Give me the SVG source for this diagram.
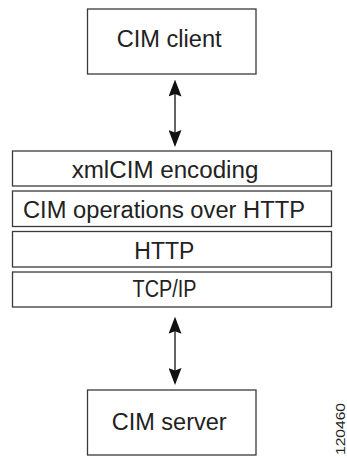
<svg xmlns="http://www.w3.org/2000/svg" width="347" height="458" viewBox="0 0 347 458">
  <style>
    .box { fill: #ffffff; stroke: #3a3a3a; stroke-width: 1.3; }
    .label { font-family: "Liberation Sans", Arial, Helvetica, sans-serif; font-size: 23.5px; fill: #222222; text-anchor: middle; }
    .link { stroke: #222222; stroke-width: 1.4; fill: none; marker-start: url(#head); marker-end: url(#head); }
    .figno { font-family: "Liberation Sans", Arial, Helvetica, sans-serif; font-size: 13.5px; fill: #222222; }
  </style>
  <defs>
    <marker id="head" viewBox="0 0 17 13" refX="14.5" refY="6.5" markerWidth="17" markerHeight="13" markerUnits="userSpaceOnUse" orient="auto-start-reverse">
      <path d="M0,0 L17,6.5 L0,13 L2.5,6.5 Z" fill="#111111"/>
    </marker>
  </defs>

  <rect width="347" height="458" fill="#ffffff"/>

  <!-- endpoints -->
  <g id="cim-client">
    <rect class="box" x="87.5" y="9" width="168.5" height="65"/>
    <text class="label" x="169.2" y="46.7" textLength="105" lengthAdjust="spacingAndGlyphs">CIM client</text>
  </g>

  <!-- protocol stack -->
  <g id="xmlcim-encoding">
    <rect class="box" x="12.5" y="151" width="319" height="35"/>
    <text class="label" x="165" y="177.5" textLength="186.7" lengthAdjust="spacingAndGlyphs">xmlCIM encoding</text>
  </g>
  <g id="cim-operations">
    <rect class="box" x="12.5" y="191" width="319" height="35.5"/>
    <text class="label" x="164" y="217.5" textLength="282" lengthAdjust="spacingAndGlyphs">CIM operations over HTTP</text>
  </g>
  <g id="http">
    <rect class="box" x="12.5" y="231.5" width="319" height="35.5"/>
    <text class="label" x="164.3" y="258.5" textLength="60" lengthAdjust="spacingAndGlyphs">HTTP</text>
  </g>
  <g id="tcp-ip">
    <rect class="box" x="12.5" y="272" width="319" height="35"/>
    <text class="label" x="164.5" y="297" textLength="64" lengthAdjust="spacingAndGlyphs">TCP/IP</text>
  </g>

  <g id="cim-server">
    <rect class="box" x="87.5" y="390" width="168.5" height="65"/>
    <text class="label" x="169.2" y="430" textLength="115" lengthAdjust="spacingAndGlyphs">CIM server</text>
  </g>

  <!-- two-way links -->
  <g id="connectors">
    <line class="link" x1="175" y1="82" x2="175" y2="144.5"/>
    <line class="link" x1="175" y1="319.2" x2="175" y2="382.5"/>
  </g>

  <!-- figure number -->
  <text class="figno" transform="translate(345 455) rotate(-90)" textLength="52" lengthAdjust="spacingAndGlyphs">120460</text>
</svg>
